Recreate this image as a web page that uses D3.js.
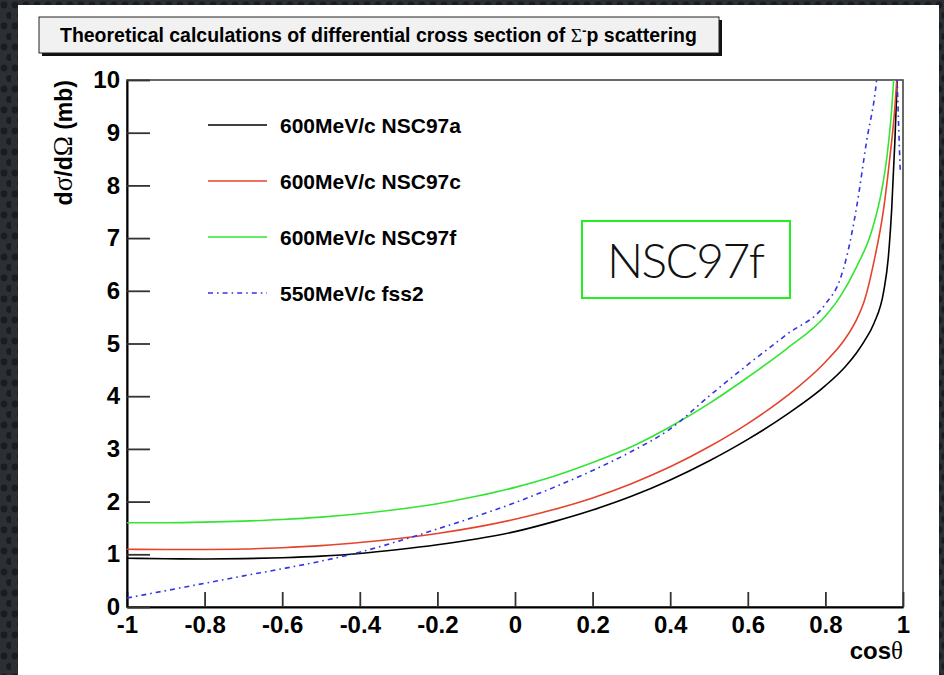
<!DOCTYPE html>
<html>
<head>
<meta charset="utf-8">
<script src="https://cdn.jsdelivr.net/npm/d3@7"></script>
<style>
  html, body { margin: 0; padding: 0; background: #2b2e32; }
  svg { display: block; }
  .sans { font-family: "Liberation Sans", Arial, Helvetica, sans-serif; font-weight: bold; }
  .greek { font-family: "Liberation Serif", "DejaVu Serif", serif; font-weight: normal; }
</style>
</head>
<body>
<svg id="chart" width="944" height="675"></svg>
<script>
// ---- Data: differential cross sections dσ/dΩ (mb) versus cosθ ----
const seriesNames = ["600MeV/c NSC97a", "600MeV/c NSC97c", "600MeV/c NSC97f", "550MeV/c fss2"];

const cosNSC97a = [-1, -0.9, -0.8, -0.7, -0.6, -0.5, -0.4, -0.3, -0.2, -0.1, 0, 0.1, 0.2, 0.3, 0.4, 0.5, 0.6, 0.7, 0.8, 0.85, 0.88, 0.9, 0.925, 0.95, 0.962, 0.971, 0.979, 0.985];
const valNSC97a = [0.925, 0.915, 0.912, 0.918, 0.935, 0.965, 1.015, 1.09, 1.18, 1.29, 1.43, 1.62, 1.84, 2.10, 2.41, 2.77, 3.18, 3.65, 4.20, 4.55, 4.82, 5.04, 5.38, 5.98, 6.62, 7.57, 8.83, 10.0];

const cosNSC97c = [-1, -0.9, -0.8, -0.7, -0.6, -0.5, -0.4, -0.3, -0.2, -0.1, 0, 0.1, 0.2, 0.3, 0.4, 0.5, 0.6, 0.7, 0.8, 0.85, 0.88, 0.9, 0.925, 0.95, 0.966, 0.979, 0.984];
const valNSC97c = [1.095, 1.09, 1.092, 1.10, 1.125, 1.165, 1.225, 1.30, 1.395, 1.515, 1.665, 1.85, 2.07, 2.34, 2.66, 3.04, 3.48, 4.0, 4.65, 5.08, 5.45, 5.8, 6.55, 7.55, 8.52, 9.47, 10.0];

const cosNSC97f = [-1, -0.9, -0.8, -0.7, -0.6, -0.5, -0.4, -0.3, -0.2, -0.1, 0, 0.1, 0.2, 0.3, 0.4, 0.5, 0.6, 0.7, 0.8, 0.838, 0.88, 0.92, 0.945, 0.958, 0.971, 0.976];
const valNSC97f = [1.60, 1.60, 1.61, 1.63, 1.66, 1.705, 1.77, 1.855, 1.96, 2.10, 2.27, 2.48, 2.74, 3.04, 3.42, 3.86, 4.36, 4.90, 5.52, 5.89, 6.45, 7.15, 7.9, 8.51, 9.46, 10.0];

const cosFss2 = [-1, -0.9, -0.8, -0.7, -0.6, -0.5, -0.4, -0.3, -0.2, -0.1, 0, 0.1, 0.2, 0.3, 0.4, 0.5, 0.6, 0.7, 0.8, 0.838, 0.855, 0.88, 0.906, 0.932, 0.95, 0.97, 0.98, 0.985, 0.993];
const valFss2 = [0.17, 0.31, 0.45, 0.59, 0.725, 0.87, 1.04, 1.25, 1.48, 1.72, 1.98, 2.27, 2.59, 2.95, 3.38, 4.0, 4.6, 5.17, 5.75, 6.22, 6.65, 7.57, 8.83, 10.0, 11.6, 12.4, 11.3, 10.0, 8.25];

const xMajorTicks = [-1, -0.8, -0.6, -0.4, -0.2, 0, 0.2, 0.4, 0.6, 0.8, 1];
const xTickLabels = ["-1", "-0.8", "-0.6", "-0.4", "-0.2", "0", "0.2", "0.4", "0.6", "0.8", "1"];
const yMajorTicks = [0, 1, 2, 3, 4, 5, 6, 7, 8, 9, 10];
const yTickLabels = ["0", "1", "2", "3", "4", "5", "6", "7", "8", "9", "10"];
const boxLabel = "NSC97f";

// ---- Drawing ----
const svg = d3.select("#chart");
const defs = svg.append("defs");

// dotted dark backdrop
const pat = defs.append("pattern").attr("id", "dots")
  .attr("patternUnits", "userSpaceOnUse").attr("width", 11).attr("height", 21);
pat.append("rect").attr("width", 11).attr("height", 21).attr("fill", "#2c2f33");
pat.append("circle").attr("cx", 4).attr("cy", 5).attr("r", 3.4).attr("fill", "#1a1c1f");
pat.append("circle").attr("cx", 9.5).attr("cy", 15.5).attr("r", 3.4).attr("fill", "#1a1c1f");
svg.append("rect").attr("width", 944).attr("height", 675).attr("fill", "url(#dots)");

// white canvas
svg.append("rect").attr("x", 18).attr("y", 5).attr("width", 921).attr("height", 670).attr("fill", "#ffffff");

const L = 127, R = 903, T = 80, B = 607;
const x = d3.scaleLinear().domain([-1, 1]).range([L, R]);
const y = d3.scaleLinear().domain([0, 10]).range([B, T]);

// title box with drop shadow
svg.append("rect").attr("x", 42).attr("y", 20).attr("width", 680).attr("height", 36).attr("fill", "#111");
svg.append("rect").attr("x", 39).attr("y", 17).attr("width", 680).attr("height", 36)
  .attr("fill", "#f1f1f1").attr("stroke", "#222").attr("stroke-width", 1);
const title = svg.append("text").attr("class", "sans").attr("x", 60).attr("y", 42)
  .attr("font-size", 18).attr("fill", "#000");
title.append("tspan").text("Theoretical calculations of differential cross section of ");
title.append("tspan").attr("class", "greek").text("Σ");
title.append("tspan").attr("font-size", "0.7em").attr("dy", -7).text("-");
title.append("tspan").attr("dy", 7).text("p scattering");
const tw = title.node().getComputedTextLength();
title.attr("font-size", 18 * 637 / tw);

// clip region for the curves
defs.append("clipPath").attr("id", "plotclip").append("rect")
  .attr("x", L).attr("y", T).attr("width", R - L).attr("height", B - T);

// frame (top and right)
svg.append("rect").attr("x", L).attr("y", T).attr("width", R - L).attr("height", B - T)
  .attr("fill", "none").attr("stroke", "#444").attr("stroke-width", 1.6);

// axes
const xMinor = d3.range(-1, 1.0001, 0.05).map(v => +v.toFixed(2)).filter(v => !xMajorTicks.includes(v));
const yMinor = d3.range(0, 10.0001, 0.2).map(v => +v.toFixed(1)).filter(v => !yMajorTicks.includes(v));

const gx = svg.append("g").attr("transform", `translate(0,${B})`);
gx.call(d3.axisBottom(x).tickValues(xMinor).tickSize(-7.5).tickSizeOuter(0).tickFormat(""));
gx.call(d3.axisBottom(x).tickValues(xMajorTicks).tickSize(-15).tickSizeOuter(0).tickPadding(9)
  .tickFormat((d, i) => xTickLabels[i]));

const gy = svg.append("g").attr("transform", `translate(${L},0)`);
gy.call(d3.axisLeft(y).tickValues(yMinor).tickSize(-11).tickSizeOuter(0).tickFormat(""));
gy.call(d3.axisLeft(y).tickValues(yMajorTicks).tickSize(-23).tickSizeOuter(0).tickPadding(7)
  .tickFormat((d, i) => yTickLabels[i]));

[gx, gy].forEach(g => {
  g.selectAll(".tick line").attr("stroke", "#333").attr("stroke-width", 1.8);
  g.selectAll(".domain").attr("stroke", "#000").attr("stroke-width", 2);
  g.selectAll("text").attr("class", "sans").attr("font-size", 24).attr("fill", "#000");
});

// axis titles
const xt = svg.append("text").attr("class", "sans").attr("x", R).attr("y", 659)
  .attr("text-anchor", "end").attr("font-size", 24).attr("fill", "#000");
xt.append("tspan").text("cos");
xt.append("tspan").attr("class", "greek").attr("font-size", 25).text("θ");

const yt = svg.append("text").attr("class", "sans")
  .attr("transform", `translate(72,${T}) rotate(-90)`)
  .attr("text-anchor", "end").attr("font-size", 23).attr("fill", "#000");
yt.append("tspan").text("d");
yt.append("tspan").attr("class", "greek").attr("font-size", 27).text("σ");
yt.append("tspan").text("/d");
yt.append("tspan").attr("class", "greek").attr("font-size", 27).text("Ω");
yt.append("tspan").text(" (mb)");

// curves
const styles = [
  { color: "#000000", dash: null },
  { color: "#e4432c", dash: null },
  { color: "#33e533", dash: null },
  { color: "#3434e6", dash: "5,4,1.6,4" }
];
const seriesData = [
  d3.zip(cosNSC97a, valNSC97a),
  d3.zip(cosNSC97c, valNSC97c),
  d3.zip(cosNSC97f, valNSC97f),
  d3.zip(cosFss2, valFss2)
];
const line = d3.line().x(d => x(d[0])).y(d => y(d[1])).curve(d3.curveMonotoneX);
const plot = svg.append("g").attr("clip-path", "url(#plotclip)");
seriesData.forEach((pts, i) => {
  plot.append("path").datum(pts).attr("d", line)
    .attr("fill", "none").attr("stroke", styles[i].color)
    .attr("stroke-width", 1.6)
    .attr("stroke-dasharray", styles[i].dash);
});

// legend
const legend = svg.append("g");
seriesNames.forEach((name, i) => {
  const yy = 125 + i * 56;
  legend.append("line").attr("x1", 208).attr("x2", 267).attr("y1", yy).attr("y2", yy)
    .attr("stroke", styles[i].color).attr("stroke-width", 1.6)
    .attr("stroke-dasharray", styles[i].dash);
  legend.append("text").attr("class", "sans").attr("x", 280).attr("y", yy + 8)
    .attr("font-size", 21).attr("fill", "#000").text(name);
});

// model annotation box
svg.append("rect").attr("x", 582).attr("y", 221).attr("width", 208).attr("height", 77)
  .attr("fill", "#fff").attr("stroke", "#22ee22").attr("stroke-width", 2);
svg.append("text").attr("x", 686).attr("y", 278).attr("text-anchor", "middle")
  .attr("font-family", "Lato, 'Open Sans', sans-serif").attr("font-weight", 300)
  .attr("font-size", 48).attr("fill", "#111")
  .attr("textLength", 158).attr("lengthAdjust", "spacing")
  .text(boxLabel);
</script>
</body>
</html>
